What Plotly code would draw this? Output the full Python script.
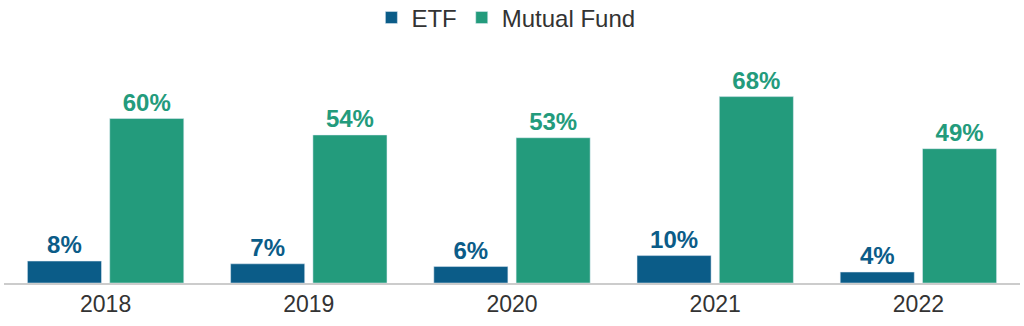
import plotly.graph_objects as go

years = ["2018", "2019", "2020", "2021", "2022"]
etf = [8, 7, 6, 10, 4]
mutual_fund = [60, 54, 53, 68, 49]

ETF_COLOR = "#0b5c88"
MF_COLOR = "#239b7c"
FONT = "Liberation Sans, Arial, Helvetica, sans-serif"

fig = go.Figure()
fig.add_trace(go.Bar(
    name="ETF", x=years, y=etf, marker_color=ETF_COLOR,
    text=[f"{v}%" for v in etf], textposition="outside", cliponaxis=False,
    textfont=dict(family=FONT, size=24, color=ETF_COLOR, weight="bold"),
))
fig.add_trace(go.Bar(
    name="Mutual Fund", x=years, y=mutual_fund, marker_color=MF_COLOR,
    text=[f"{v}%" for v in mutual_fund], textposition="outside", cliponaxis=False,
    textfont=dict(family=FONT, size=24, color=MF_COLOR, weight="bold"),
))

fig.update_layout(
    width=1024, height=326,
    margin=dict(l=4, r=4, t=50, b=43, autoexpand=False),
    paper_bgcolor="white", plot_bgcolor="white",
    barmode="group", bargap=0.19, bargroupgap=0.1,
    font=dict(family=FONT, color="#333333"),
    legend=dict(orientation="h", x=0.494, xanchor="center",
                yref="container", y=0.945, yanchor="middle",
                font=dict(family=FONT, size=24, color="#333333"), itemclick=False),
    xaxis=dict(showline=True, linecolor="#cccccc", linewidth=1.5, ticks="",
               tickfont=dict(family=FONT, size=23, color="#333333"), showgrid=False),
    yaxis=dict(range=[0, 85], visible=False, showgrid=False, zeroline=False),
)

fig.write_html("out.html")
